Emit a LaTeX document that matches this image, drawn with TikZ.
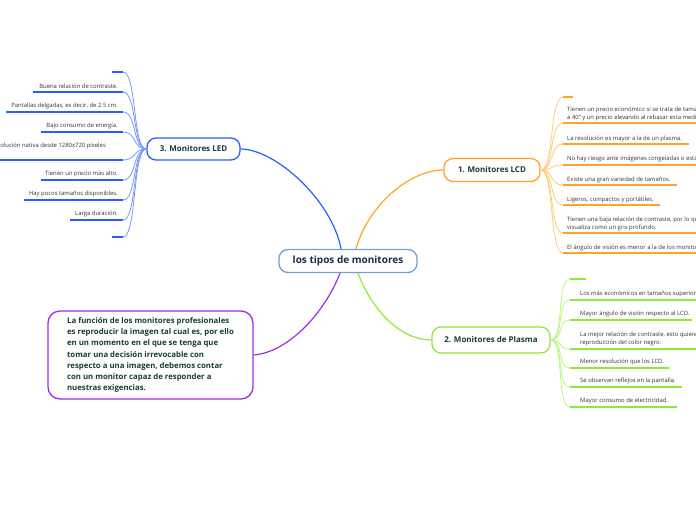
\documentclass[tikz,border=0pt]{standalone}
\usepackage{fontspec}
\setmainfont{Open Sans}
\usetikzlibrary{calc}
\definecolor{cblue}{HTML}{2B5CFF}
\definecolor{cblueL}{HTML}{7A95FF}
\definecolor{corange}{HTML}{FFA424}
\definecolor{corangeL}{HTML}{FFCB78}
\definecolor{cgreen}{HTML}{8FEA38}
\definecolor{cgreenL}{HTML}{BDF585}
\definecolor{cpurple}{HTML}{A22BE8}
\definecolor{ccenter}{HTML}{6FA0D8}
\definecolor{ctext}{HTML}{173F33}
\definecolor{cnavy}{HTML}{1A2B4C}
\definecolor{cleaf}{HTML}{333333}
\begin{document}
\begin{tikzpicture}[x=1pt,y=-1pt,
  topic/.style={rectangle, rounded corners=9pt, fill=white, line width=1.3pt, inner sep=0pt, font=\bfseries\fontsize{8}{9}\selectfont, text=ctext},
  leaf/.style={inner sep=0pt, font=\fontsize{5.9}{8}\selectfont, text=cleaf, align=left},
  lcdline/.style={corange, line width=1.6pt},
  lcdcurve/.style={corangeL, line width=0.8pt},
  plline/.style={cgreen, line width=1.6pt},
  plcurve/.style={cgreenL, line width=0.8pt},
  ledline/.style={cblue, line width=1.6pt},
  ledcurve/.style={cblueL, line width=0.8pt}]
\useasboundingbox (0,0) rectangle (696,520);
\clip (0,0) rectangle (696,520);

% ---------- main nodes ----------
\node[topic, draw=ccenter, minimum width=138pt, minimum height=23pt, text=cnavy, font=\bfseries\fontsize{10}{11}\selectfont] (root) at (348,261) {los tipos de monitores};
\node[topic, draw=corange, minimum width=96pt, minimum height=23pt] (lcd) at (492,170) {1. Monitores LCD};
\node[topic, draw=cgreen, minimum width=118pt, minimum height=26pt] (pl) at (491,340) {2. Monitores de Plasma};
\node[topic, draw=cblue, minimum width=93pt, minimum height=22pt] (led) at (193.5,149) {3. Monitores LED};
\node[topic, draw=cpurple, minimum width=205pt, minimum height=88pt, rounded corners=12pt, align=left, font=\bfseries\fontsize{7.8}{11.3}\selectfont] (box) at (150.5,355) {La función de los monitores profesionales\\es reproducir la imagen tal cual es, por ello\\en un momento en el que se tenga que\\tomar una decisión irrevocable con\\respecto a una imagen, debemos contar\\con un monitor capaz de responder a\\nuestras exigencias.};

% ---------- main connectors ----------
\draw[cblue, line width=1.2pt] ($(root.north)+(-7,0)$) .. controls (332,200) and (275,149) .. (led.east);
\draw[corange, line width=1.2pt] ($(root.north)+(8,0)$) .. controls (368,205) and (410,170) .. (lcd.west);
\draw[cgreen, line width=1.2pt] ($(root.south)+(10,0)$) .. controls (372,310) and (400,340) .. (pl.west);
\draw[cpurple, line width=1.2pt] ($(root.south)+(-8,0)$) .. controls (326,310) and (290,352) .. (box.east);

% ---------- LCD leaves ----------
\coordinate (a1) at (563,97);  \coordinate (b1) at (573,97);
\coordinate (a2) at (563,123); \coordinate (b2) at (700,123);
\coordinate (a3) at (563,144); \coordinate (b3) at (689,144);
\coordinate (a4) at (563,165); \coordinate (b4) at (700,165);
\coordinate (a5) at (563,185); \coordinate (b5) at (677,185);
\coordinate (a6) at (563,205); \coordinate (b6) at (660,205);
\coordinate (a7) at (563,233); \coordinate (b7) at (700,233);
\coordinate (a8) at (563,253); \coordinate (b8) at (700,253);
\foreach \i in {1,...,8}{
  \draw[lcdcurve] (lcd.east) .. controls +(14,0) and +(-14,0) .. (a\i);
  \draw[lcdline] (a\i) -- (b\i);
}
\node[leaf, anchor=south west] (t2) at (567,121) {Tienen un precio económico si se trata de tamaños menores\\a 40" y un precio elevando al rebasar esta medida.};
\node[leaf, anchor=south west] (t3) at (567,142) {La resolución es mayor a la de un plasma.};
\node[leaf, anchor=south west] (t4) at (567,162) {No hay riesgo ante imágenes congeladas o estáticas.};
\node[leaf, anchor=south west] (t5) at (567,183) {Existe una gran variedad de tamaños.};
\node[leaf, anchor=south west] (t6) at (567,203) {Ligeros, compactos y portátiles.};
\node[leaf, anchor=south west] (t7) at (567,231) {Tienen una baja relación de contraste, por lo que el negro se\\visualiza como un gris profundo.};
\node[leaf, anchor=south west] (t8) at (567,251) {El ángulo de visión es menor a la de los monitores de plasma.};

% ---------- Plasma leaves ----------
\coordinate (c1) at (570,279); \coordinate (d1) at (586,279);
\coordinate (c2) at (570,300); \coordinate (d2) at (700,300);
\coordinate (c3) at (570,320); \coordinate (d3) at (692,320);
\coordinate (c4) at (570,349); \coordinate (d4) at (700,349);
\coordinate (c5) at (570,368); \coordinate (d5) at (669,368);
\coordinate (c6) at (570,387); \coordinate (d6) at (682,387);
\coordinate (c7) at (570,407); \coordinate (d7) at (677,407);
\foreach \i in {1,...,7}{
  \draw[plcurve] (pl.east) .. controls +(14,0) and +(-14,0) .. (c\i);
  \draw[plline] (c\i) -- (d\i);
}
\node[leaf, anchor=south west] (p2) at (580,297) {Los más económicos en tamaños superiores a 40".};
\node[leaf, anchor=south west] (p3) at (580,317) {Mayor ángulo de visión respecto al LCD.};
\node[leaf, anchor=south west] (p4) at (580,346) {La mejor relación de contraste, esto quiere decir una mejor\\reproducción del color negro.};
\node[leaf, anchor=south west] (p5) at (580,365) {Menor resolución que los LCD.};
\node[leaf, anchor=south west] (p6) at (580,384) {Se observan reflejos en la pantalla.};
\node[leaf, anchor=south west] (p7) at (580,404) {Mayor consumo de electricidad.};

% ---------- LED leaves ----------
\coordinate (e1) at (123,72);  \coordinate (f1) at (112,72);
\coordinate (e2) at (123,92);  \coordinate (f2) at (33,92);
\coordinate (e3) at (123,112); \coordinate (f3) at (6,112);
\coordinate (e4) at (123,132); \coordinate (f4) at (41,132);
\coordinate (e5) at (123,160); \coordinate (f5) at (-5,160);
\coordinate (e6) at (123,180); \coordinate (f6) at (41,180);
\coordinate (e7) at (123,200); \coordinate (f7) at (24,200);
\coordinate (e8) at (123,220); \coordinate (f8) at (70,220);
\coordinate (e9) at (123,237); \coordinate (f9) at (112,237);
\foreach \i in {1,...,9}{
  \draw[ledcurve] (led.west) .. controls +(-14,0) and +(14,0) .. (e\i);
  \draw[ledline] (e\i) -- (f\i);
}
\node[leaf, anchor=south east] (l2) at (118,89) {Buena relación de contraste.};
\node[leaf, anchor=south east] (l3) at (118,109) {Pantallas delgadas, es decir, de 2.5 cm.};
\node[leaf, anchor=south east] (l4) at (118,129) {Bajo consumo de energía.};
\node[leaf, anchor=base east] (l5) at (106,147) {Resolución nativa desde 1280x720 píxeles};
\node[leaf, anchor=south east] (l6) at (118,177) {Tienen un precio más alto.};
\node[leaf, anchor=south east] (l7) at (118,197) {Hay pocos tamaños disponibles.};
\node[leaf, anchor=south east] (l8) at (118,217) {Larga duración.};
\end{tikzpicture}
\end{document}
